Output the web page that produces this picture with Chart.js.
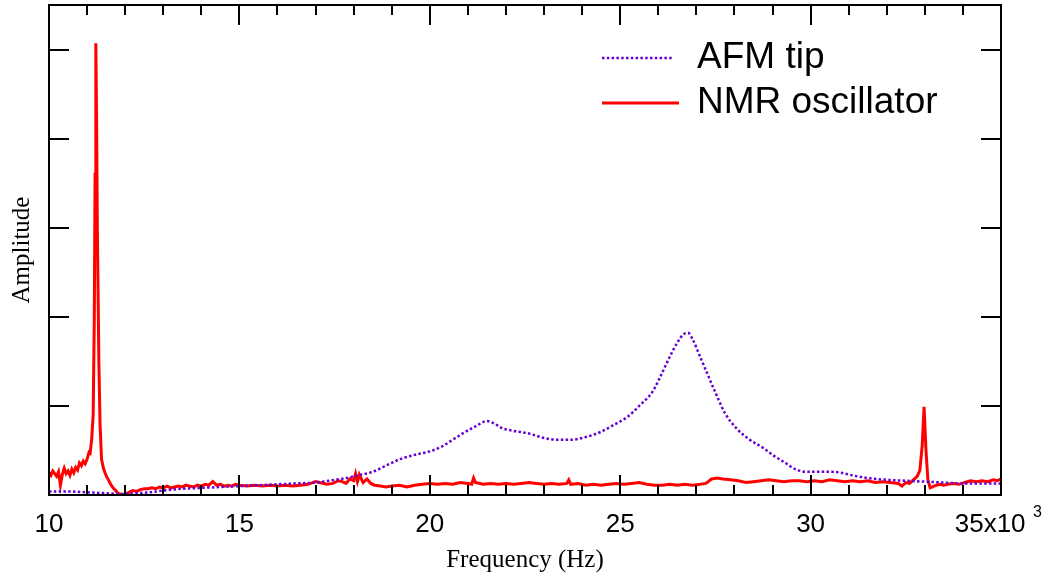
<!DOCTYPE html>
<html lang="en">
<head>
  <meta charset="UTF-8">
  <title>AFM tip vs NMR oscillator spectrum</title>
  <script src="https://cdn.jsdelivr.net/npm/chart.js"></script>
  <style>
    html, body { margin: 0; padding: 0; background: #fff; }
    #chart { display: block; }
  </style>
</head>
<body>
  <canvas id="chart" width="1048" height="579"></canvas>

  <script>
    // frequency in kHz (axis shows x10^3), amplitude in arbitrary units
    const xTicks = [10, 15, 20, 25, 30, 35];

    const nmrFreq = [
      10.00, 10.05, 10.10, 10.15, 10.20, 10.25, 10.30, 10.35, 10.40, 10.45,
      10.50, 10.55, 10.60, 10.65, 10.70, 10.75, 10.80, 10.85, 10.90, 10.95,
      11.00, 11.05, 11.08, 11.12, 11.16, 11.19, 11.21, 11.23, 11.25, 11.27,
      11.31, 11.34, 11.38, 11.43, 11.47, 11.52, 11.56, 11.62, 11.68, 11.75,
      11.81, 11.88, 11.94, 12.00, 12.10, 12.20, 12.30, 12.40, 12.50, 12.60,
      12.70, 12.80, 12.90, 13.00, 13.10, 13.20, 13.30, 13.40, 13.50, 13.60,
      13.70, 13.80, 13.90, 14.00, 14.10, 14.20, 14.30, 14.40, 14.50, 14.60,
      14.70, 14.80, 14.90, 15.00, 15.20, 15.40, 15.60, 15.80, 16.00, 16.20,
      16.40, 16.60, 16.80, 17.00, 17.10, 17.30, 17.45, 17.60, 17.70, 17.80,
      17.90, 18.00, 18.05, 18.10, 18.15, 18.25, 18.35, 18.45, 18.55, 18.70,
      18.85, 19.00, 19.20, 19.40, 19.60, 19.80, 20.00, 20.20, 20.40, 20.60,
      20.80, 21.00, 21.10, 21.15, 21.20, 21.40, 21.60, 21.80, 22.00, 22.20,
      22.40, 22.60, 22.80, 23.00, 23.20, 23.40, 23.60, 23.65, 23.70, 23.90,
      24.10, 24.30, 24.50, 24.70, 24.90, 25.10, 25.30, 25.50, 25.70, 25.90,
      26.10, 26.30, 26.50, 26.70, 26.90, 27.10, 27.25, 27.40, 27.55, 27.70,
      27.90, 28.10, 28.30, 28.50, 28.70, 28.90, 29.10, 29.30, 29.50, 29.70,
      29.90, 30.10, 30.30, 30.50, 30.70, 30.90, 31.10, 31.30, 31.50, 31.70,
      31.90, 32.10, 32.30, 32.40, 32.50, 32.60, 32.70, 32.80, 32.87, 32.93,
      32.98, 33.03, 33.08, 33.14, 33.20, 33.30, 33.40, 33.50, 33.60, 33.75,
      33.90, 34.05, 34.20, 34.35, 34.50, 34.65, 34.80, 34.90, 35.00
    ];
    const nmrAmp = [
      0.25, 0.22, 0.27, 0.24, 0.21, 0.26, 0.11, 0.23, 0.30, 0.24,
      0.27, 0.22, 0.29, 0.25, 0.31, 0.28, 0.36, 0.33, 0.38, 0.35,
      0.40, 0.48, 0.47, 0.62, 0.90, 2.00, 3.60, 5.07, 4.20, 2.98,
      1.48, 0.80, 0.40, 0.30, 0.25, 0.20, 0.17, 0.12, 0.08, 0.05,
      0.02, 0.01, 0.00, 0.01, 0.03, 0.05, 0.04, 0.06, 0.07, 0.07,
      0.08, 0.07, 0.09, 0.08, 0.10, 0.08, 0.09, 0.10, 0.09, 0.11,
      0.10, 0.09, 0.11, 0.10, 0.12, 0.11, 0.15, 0.11, 0.12, 0.10,
      0.11, 0.10, 0.12, 0.11, 0.10, 0.11, 0.10, 0.11, 0.10, 0.11,
      0.10, 0.11, 0.12, 0.15, 0.14, 0.12, 0.13, 0.16, 0.15, 0.13,
      0.18, 0.16, 0.24, 0.15, 0.23, 0.14, 0.18, 0.13, 0.11, 0.10,
      0.09, 0.10, 0.11, 0.09, 0.11, 0.12, 0.13, 0.12, 0.13, 0.12,
      0.14, 0.13, 0.12, 0.19, 0.14, 0.12, 0.13, 0.12, 0.13, 0.12,
      0.13, 0.14, 0.13, 0.12, 0.13, 0.12, 0.13, 0.17, 0.12, 0.13,
      0.11, 0.12, 0.11, 0.12, 0.13, 0.12, 0.13, 0.14, 0.12, 0.11,
      0.11, 0.12, 0.11, 0.12, 0.11, 0.12, 0.13, 0.18, 0.19, 0.18,
      0.17, 0.16, 0.14, 0.15, 0.16, 0.17, 0.16, 0.15, 0.16, 0.16,
      0.15, 0.16, 0.15, 0.17, 0.16, 0.15, 0.16, 0.15, 0.16, 0.14,
      0.15, 0.14, 0.13, 0.10, 0.14, 0.13, 0.17, 0.21, 0.28, 0.55,
      0.99, 0.50, 0.17, 0.08, 0.09, 0.11, 0.12, 0.11, 0.12, 0.13,
      0.12, 0.14, 0.16, 0.15, 0.16, 0.15, 0.17, 0.16, 0.18
    ];

    const afmFreq = [
      10.0, 10.5, 11.0, 11.5, 11.9, 12.3, 12.65, 13.0, 13.5, 14.0,
      14.5, 15.0, 15.5, 16.0, 16.5, 17.0, 17.5, 17.8, 18.1, 18.5,
      18.9, 19.2, 19.6, 20.0, 20.3, 20.6, 20.9, 21.2, 21.5, 21.7,
      21.9, 22.2, 22.6, 23.0, 23.35, 23.7, 24.0, 24.5, 24.8, 25.2,
      25.5, 25.85, 26.1, 26.3, 26.5, 26.65, 26.78, 26.9, 27.1, 27.3,
      27.5, 27.75, 28.05, 28.4, 28.75, 29.0, 29.3, 29.6, 29.9, 30.2,
      30.5, 30.8, 31.1, 31.5, 32.0, 32.5, 33.0, 33.5, 34.0, 34.5, 35.0
    ];
    const afmAmp = [
      0.04, 0.04, 0.03, 0.02, 0.01, 0.02, 0.03, 0.05, 0.07, 0.08,
      0.09, 0.10, 0.11, 0.12, 0.13, 0.14, 0.17, 0.19, 0.22, 0.26,
      0.34, 0.40, 0.45, 0.49, 0.54, 0.62, 0.70, 0.77, 0.83, 0.80,
      0.75, 0.72, 0.69, 0.64, 0.62, 0.62, 0.64, 0.71, 0.78, 0.88,
      1.00, 1.16, 1.37, 1.55, 1.71, 1.80, 1.82, 1.75, 1.55, 1.35,
      1.15, 0.92, 0.75, 0.62, 0.53, 0.45, 0.37, 0.29, 0.26, 0.26,
      0.26, 0.25, 0.22, 0.19, 0.17, 0.16, 0.15, 0.14, 0.13, 0.13, 0.13
    ];

    const SANS = '"Liberation Sans", Arial, Helvetica, sans-serif';
    const SERIF = '"Liberation Serif", "Times New Roman", serif';

    const toPoints = (xs, ys) => xs.map((x, i) => ({ x: x, y: ys[i] }));

    // Igor-style box: frame, inward major/minor ticks on all four sides
    const framePlugin = {
      id: 'frame',
      afterDatasetsDraw(chart) {
        const { ctx, chartArea: a, scales: { x, y } } = chart;
        ctx.save();
        ctx.strokeStyle = '#000';
        ctx.lineWidth = 2;
        ctx.strokeRect(a.left, a.top, a.right - a.left, a.bottom - a.top);
        ctx.beginPath();
        for (let f = x.min; f <= x.max + 1e-9; f += 1) {
          const px = Math.round(x.getPixelForValue(f));
          const len = xTicks.includes(f) ? 20 : 10;
          ctx.moveTo(px, a.bottom); ctx.lineTo(px, a.bottom - len);
          ctx.moveTo(px, a.top); ctx.lineTo(px, a.top + len);
        }
        for (let v = 1; v <= 5; v++) {
          const py = Math.round(y.getPixelForValue(v));
          ctx.moveTo(a.left, py); ctx.lineTo(a.left + 20, py);
          ctx.moveTo(a.right, py); ctx.lineTo(a.right - 20, py);
        }
        ctx.stroke();
        ctx.restore();
      },
      afterDraw(chart) {
        const { ctx } = chart;
        const x = chart.scales.x;
        // exponent of the "x10" multiplier
        ctx.save();
        ctx.fillStyle = '#000';
        ctx.font = '16px ' + SANS;
        ctx.textBaseline = 'top';
        ctx.textAlign = 'left';
        ctx.fillText('3', x.getPixelForValue(35) + 32, 505);
        ctx.restore();
      }
    };

    // legend in the upper right, line sample + label
    const legendPlugin = {
      id: 'boxLegend',
      afterDraw(chart) {
        const { ctx } = chart;
        const rows = [
          { ds: chart.data.datasets[0], y: 58, x1: 673 },
          { ds: chart.data.datasets[1], y: 103, x1: 679 }
        ];
        ctx.save();
        rows.forEach(r => {
          ctx.beginPath();
          ctx.strokeStyle = r.ds.borderColor;
          ctx.lineWidth = r.ds.borderWidth;
          ctx.setLineDash(r.ds.borderDash || []);
          ctx.moveTo(602, r.y);
          ctx.lineTo(r.x1, r.y);
          ctx.stroke();
          ctx.setLineDash([]);
          ctx.fillStyle = '#000';
          ctx.font = '37px ' + SANS;
          ctx.textBaseline = 'middle';
          ctx.textAlign = 'left';
          ctx.fillText(r.ds.label, 697, r.y);
        });
        ctx.restore();
      }
    };

    new Chart(document.getElementById('chart'), {
      type: 'line',
      data: {
        datasets: [
          {
            label: 'AFM tip',
            data: toPoints(afmFreq, afmAmp),
            borderColor: 'rgb(102,0,214)',
            borderWidth: 2.5,
            borderDash: [2.5, 2.3],
            pointRadius: 0,
            cubicInterpolationMode: 'monotone',
            fill: false
          },
          {
            label: 'NMR oscillator',
            data: toPoints(nmrFreq, nmrAmp),
            borderColor: '#ff0000',
            borderWidth: 3,
            pointRadius: 0,
            tension: 0,
            fill: false
          }
        ]
      },
      options: {
        responsive: false,
        animation: false,
        devicePixelRatio: 1,
        layout: { padding: { top: 5, right: 47, left: 0, bottom: 0 } },
        plugins: { legend: { display: false }, tooltip: { enabled: false } },
        scales: {
          x: {
            type: 'linear',
            min: 10,
            max: 35,
            grid: { display: false, drawTicks: false },
            border: { display: false },
            ticks: {
              stepSize: 5,
              maxRotation: 0,
              autoSkip: false,
              padding: 14,
              color: '#000',
              font: { family: SANS, size: 26 },
              callback: v => (v === 35 ? '35x10   ' : String(v))
            },
            title: {
              display: true,
              text: 'Frequency (Hz)',
              color: '#000',
              font: { family: SERIF, size: 25 },
              padding: { top: 0, bottom: 4 }
            },
            afterFit: s => {
              s.height = 84;
              // labels may overhang the plot edges; keep the plot box fixed
              s.paddingLeft = 0;
              s.paddingRight = 0;
            }
          },
          y: {
            min: 0,
            max: 5.5,
            grid: { display: false, drawTicks: false },
            border: { display: false },
            ticks: { display: false },
            title: {
              display: true,
              text: 'Amplitude',
              color: '#000',
              font: { family: SERIF, size: 25 },
              padding: { top: 7, bottom: 0 }
            },
            afterFit: s => { s.width = 49; }
          }
        }
      },
      plugins: [framePlugin, legendPlugin]
    });
  </script>
</body>
</html>
